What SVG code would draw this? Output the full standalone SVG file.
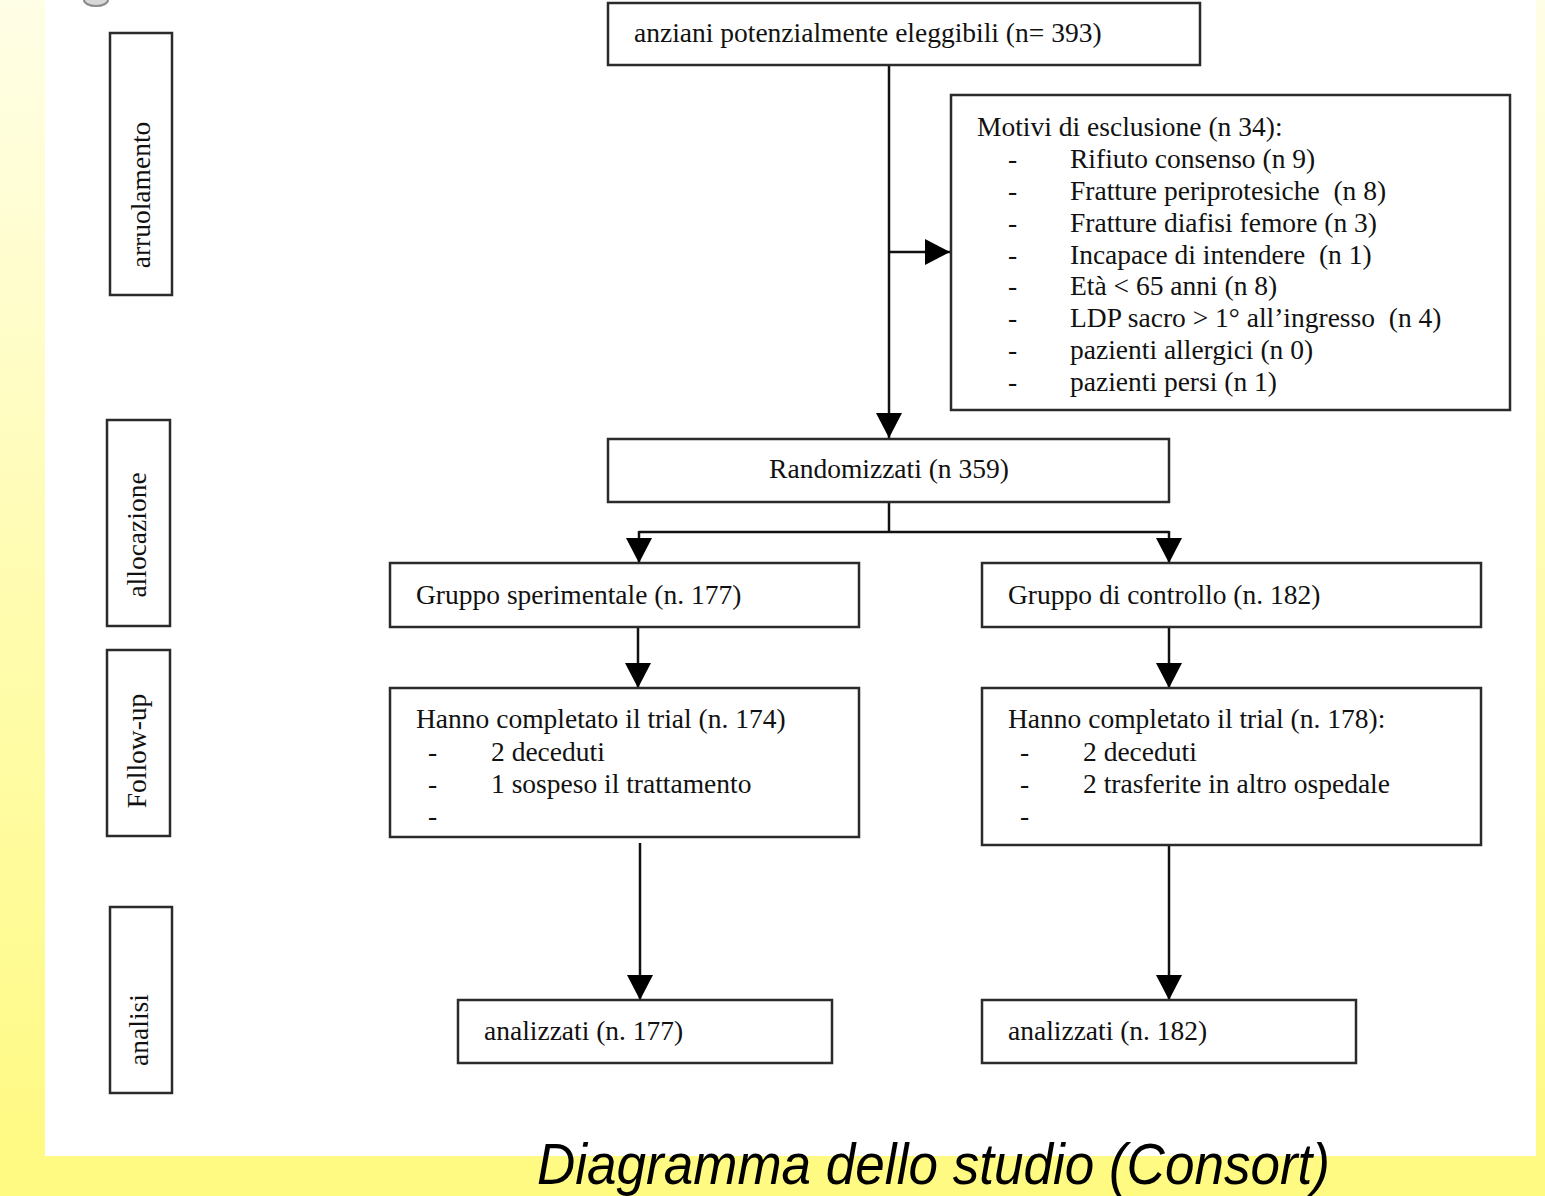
<svg xmlns="http://www.w3.org/2000/svg" width="1545" height="1196" viewBox="0 0 1545 1196">
<defs>
<linearGradient id="bg" x1="0" y1="0" x2="0" y2="1">
<stop offset="0" stop-color="#FFFEE6"/>
<stop offset="0.5" stop-color="#FFFCB0"/>
<stop offset="1" stop-color="#FFFA80"/>
</linearGradient>
<marker id="ah" viewBox="0 0 25 26" refX="25" refY="13" markerWidth="25" markerHeight="26" markerUnits="userSpaceOnUse" orient="auto">
<path d="M0,0 L25,13 L0,26 z" fill="#000"/>
</marker>
<style>
.box{fill:#fff;stroke:#2b2b2b;stroke-width:2.5}
.t{font-family:"Liberation Serif","Times New Roman",serif;font-size:27.5px;fill:#111;white-space:pre}
.c{fill:none;stroke:#111;stroke-width:2.5}
.cap{font-family:"Liberation Sans",Arial,sans-serif;font-style:italic;font-size:58px;fill:#000}
</style>
</defs>
<rect x="0" y="0" width="1545" height="1196" fill="url(#bg)"/>
<rect x="45" y="0" width="1491" height="1156" fill="#fff"/>
<path d="M84,0 A12,6 0 0 0 108,0" fill="#d8d8d8" stroke="#8a8a8a" stroke-width="2"/>

<g id="phase-arruolamento">
<rect class="box" x="110" y="33" width="62" height="262"/>
<text class="t" transform="translate(150,195) rotate(-90)" text-anchor="middle">arruolamento</text>
</g>
<g id="phase-allocazione">
<rect class="box" x="107" y="420" width="63" height="206"/>
<text class="t" transform="translate(146,535) rotate(-90)" text-anchor="middle">allocazione</text>
</g>
<g id="phase-followup">
<rect class="box" x="107" y="650" width="63" height="186"/>
<text class="t" transform="translate(146,751) rotate(-90)" text-anchor="middle">Follow-up</text>
</g>
<g id="phase-analisi">
<rect class="box" x="110" y="907" width="62" height="186"/>
<text class="t" transform="translate(148,1030) rotate(-90)" text-anchor="middle">analisi</text>
</g>

<g id="connectors">
<path class="c" d="M889,65 V438" marker-end="url(#ah)"/>
<path class="c" d="M889,252 H950" marker-end="url(#ah)"/>
<path class="c" d="M889,502 V532 M639,532 H1169"/>
<path class="c" d="M639,531 V563" marker-end="url(#ah)"/>
<path class="c" d="M1169,531 V563" marker-end="url(#ah)"/>
<path class="c" d="M638,627 V688" marker-end="url(#ah)"/>
<path class="c" d="M1169,627 V688" marker-end="url(#ah)"/>
<path class="c" d="M640,843 V1000" marker-end="url(#ah)"/>
<path class="c" d="M1169,845 V1000" marker-end="url(#ah)"/>
</g>

<g id="eleggibili">
<rect class="box" x="608" y="3" width="592" height="62"/>
<text class="t" x="634" y="42">anziani potenzialmente eleggibili (n= 393)</text>
</g>

<g id="esclusione">
<rect class="box" x="951" y="95" width="559" height="315"/>
<text class="t" x="977" y="136">Motivi di esclusione (n 34):</text>
<text class="t" x="1008" y="168">-</text><text class="t" x="1070" y="168">Rifiuto consenso (n 9)</text>
<text class="t" x="1008" y="199.5">-</text><text class="t" x="1070" y="199.5" xml:space="preserve">Fratture periprotesiche  (n 8)</text>
<text class="t" x="1008" y="231.5">-</text><text class="t" x="1070" y="231.5">Fratture diafisi femore (n 3)</text>
<text class="t" x="1008" y="263.5">-</text><text class="t" x="1070" y="263.5" xml:space="preserve">Incapace di intendere  (n 1)</text>
<text class="t" x="1008" y="295">-</text><text class="t" x="1070" y="295">Età &lt; 65 anni (n 8)</text>
<text class="t" x="1008" y="327">-</text><text class="t" x="1070" y="327" xml:space="preserve">LDP sacro &gt; 1° all’ingresso  (n 4)</text>
<text class="t" x="1008" y="359">-</text><text class="t" x="1070" y="359">pazienti allergici (n 0)</text>
<text class="t" x="1008" y="391">-</text><text class="t" x="1070" y="391">pazienti persi (n 1)</text>
</g>

<g id="randomizzati">
<rect class="box" x="608" y="439" width="561" height="63"/>
<text class="t" x="889" y="478" text-anchor="middle">Randomizzati (n 359)</text>
</g>

<g id="gruppo-sperimentale">
<rect class="box" x="390" y="563" width="469" height="64"/>
<text class="t" x="416" y="604">Gruppo sperimentale (n. 177)</text>
</g>

<g id="gruppo-controllo">
<rect class="box" x="982" y="563" width="499" height="64"/>
<text class="t" x="1008" y="604">Gruppo di controllo (n. 182)</text>
</g>

<g id="completato-sperimentale">
<rect class="box" x="390" y="688" width="469" height="149"/>
<text class="t" x="416" y="728">Hanno completato il trial (n. 174)</text>
<text class="t" x="428" y="761">-</text><text class="t" x="491" y="761">2 deceduti</text>
<text class="t" x="428" y="793">-</text><text class="t" x="491" y="793">1 sospeso il trattamento</text>
<text class="t" x="428" y="825">-</text>
</g>

<g id="completato-controllo">
<rect class="box" x="982" y="688" width="499" height="157"/>
<text class="t" x="1008" y="728">Hanno completato il trial (n. 178):</text>
<text class="t" x="1020" y="761">-</text><text class="t" x="1083" y="761">2 deceduti</text>
<text class="t" x="1020" y="793">-</text><text class="t" x="1083" y="793">2 trasferite in altro ospedale</text>
<text class="t" x="1020" y="825">-</text>
</g>

<g id="analizzati-sperimentale">
<rect class="box" x="458" y="1000" width="374" height="63"/>
<text class="t" x="484" y="1040">analizzati (n. 177)</text>
</g>

<g id="analizzati-controllo">
<rect class="box" x="982" y="1000" width="374" height="63"/>
<text class="t" x="1008" y="1040">analizzati (n. 182)</text>
</g>

<text class="cap" x="537" y="1184" textLength="793" lengthAdjust="spacingAndGlyphs">Diagramma dello studio (Consort)</text>
</svg>
